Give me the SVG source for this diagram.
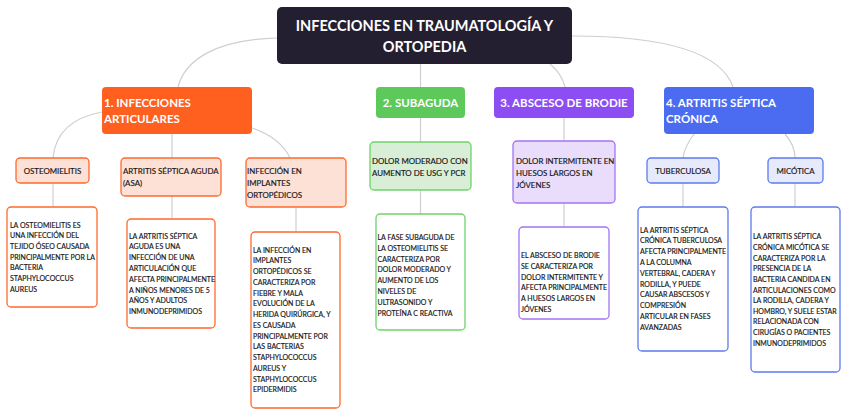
<svg xmlns="http://www.w3.org/2000/svg" width="848" height="416" viewBox="0 0 848 416">
<style>
text{font-family:Lato,"Liberation Sans",sans-serif;}
.conn path{fill:none;stroke:#cfcfcf;stroke-width:1.2;}
.title{font-size:14.5px;font-weight:bold;fill:#fff;}
.main{font-size:11.5px;font-weight:bold;fill:#fff;}
.lbl{font-size:7.9px;fill:#151515;stroke:#151515;stroke-width:0.15;}
.body{font-size:7px;fill:#151515;stroke:#151515;stroke-width:0.15;}
.o1{fill:#fde0d6;stroke:#ff6a2b;stroke-width:1.3;}
.o2{fill:#fff;stroke:#ff6a2b;stroke-width:1.3;}
.g1{fill:#d9eed6;stroke:#6fd36a;stroke-width:1.3;}
.g2{fill:#fff;stroke:#6fd36a;stroke-width:1.3;}
.p1{fill:#e9ddfb;stroke:#a374f3;stroke-width:1.3;}
.p2{fill:#fff;stroke:#a374f3;stroke-width:1.3;}
.b1{fill:#e7eafb;stroke:#5b7bf0;stroke-width:1.3;}
.b2{fill:#fff;stroke:#5b7bf0;stroke-width:1.3;}
</style>
<g class="conn" id="connectors">
<path d="M277 38 C215 40 185 60 178 87"/>
<path d="M420.5 64 L420.5 87"/>
<path d="M550 64 Q562 74 565 87"/>
<path d="M572 36 C660 36 720 50 733 87"/>
<path d="M102 112 C70 118 55 135 53 158"/>
<path d="M172 134 L172 158"/>
<path d="M252 128 C272 135 284 145 290 158"/>
<path d="M53 183 L53 207"/>
<path d="M172 196 L172 219"/>
<path d="M296 207 L296 232"/>
<path d="M420.5 118 L420.5 142"/>
<path d="M420.5 190 L420.5 214"/>
<path d="M564 118 L564 141"/>
<path d="M564 203 L564 227"/>
<path d="M694 134 C688 142 684 150 683 158"/>
<path d="M785 134 C792 142 795 150 795 158"/>
<path d="M683 183 L683 207"/>
<path d="M795 183 L795 207"/>
</g>
<g id="title">
<rect x="277" y="7" width="295" height="57" rx="5" fill="#241e31"/>
<text class="title" x="424.5" y="31" text-anchor="middle">INFECCIONES EN TRAUMATOLOGÍA Y</text>
<text class="title" x="424.5" y="52" text-anchor="middle">ORTOPEDIA</text>
</g>
<g id="n1">
<rect x="102" y="87" width="150" height="47" rx="4" fill="#ff5f1f"/>
<text class="main" x="104" y="107">1. INFECCIONES</text>
<text class="main" x="104" y="123">ARTICULARES</text>
</g>
<g id="n2">
<rect x="376" y="87" width="89" height="31" rx="4" fill="#5cc95a"/>
<text class="main" x="420.5" y="107" text-anchor="middle">2. SUBAGUDA</text>
</g>
<g id="n3">
<rect x="494" y="87" width="140" height="31" rx="4" fill="#8c4df2"/>
<text class="main" x="564" y="107" text-anchor="middle">3. ABSCESO DE BRODIE</text>
</g>
<g id="n4">
<rect x="664" y="87" width="150" height="47" rx="4" fill="#4b6cf0"/>
<text class="main" x="666" y="107">4. ARTRITIS SÉPTICA</text>
<text class="main" x="666" y="123">CRÓNICA</text>
</g>
<g id="osteo">
<rect class="o1" x="16" y="158" width="73" height="25" rx="4"/>
<text class="lbl" x="52.5" y="174" text-anchor="middle">OSTEOMIELITIS</text>
</g>
<g id="asa">
<rect class="o1" x="121" y="158" width="100" height="38" rx="4"/>
<text class="lbl" x="123" y="174">ARTRITIS SÉPTICA AGUDA</text>
<text class="lbl" x="123" y="186">(ASA)</text>
</g>
<g id="implantes">
<rect class="o1" x="246" y="158" width="100" height="49" rx="4"/>
<text class="lbl" x="247" y="174">INFECCIÓN EN</text>
<text class="lbl" x="247" y="186">IMPLANTES</text>
<text class="lbl" x="247" y="198">ORTOPÉDICOS</text>
</g>
<g id="osteo-txt">
<rect class="o2" x="7" y="207" width="90" height="100" rx="4"/>
<text class="body" x="10" y="227.5"><tspan x="10">LA OSTEOMIELITIS ES</tspan><tspan x="10" dy="10.7">UNA INFECCIÓN DEL</tspan><tspan x="10" dy="10.7">TEJIDO ÓSEO CAUSADA</tspan><tspan x="10" dy="10.7">PRINCIPALMENTE POR LA</tspan><tspan x="10" dy="10.7">BACTERIA</tspan><tspan x="10" dy="10.7">STAPHYLOCOCCUS</tspan><tspan x="10" dy="10.7">AUREUS</tspan></text>
</g>
<g id="asa-txt">
<rect class="o2" x="127" y="219" width="88" height="109" rx="4"/>
<text class="body" x="129" y="238.5"><tspan x="129">LA ARTRITIS SÉPTICA</tspan><tspan x="129" dy="10.8">AGUDA ES UNA</tspan><tspan x="129" dy="10.8">INFECCIÓN DE UNA</tspan><tspan x="129" dy="10.8">ARTICULACIÓN QUE</tspan><tspan x="129" dy="10.8">AFECTA PRINCIPALMENTE</tspan><tspan x="129" dy="10.8">A NIÑOS MENORES DE 5</tspan><tspan x="129" dy="10.8">AÑOS Y ADULTOS</tspan><tspan x="129" dy="10.8">INMUNODEPRIMIDOS</tspan></text>
</g>
<g id="implantes-txt">
<rect class="o2" x="251" y="232" width="89" height="176" rx="4"/>
<text class="body" x="253" y="252.5"><tspan x="253">LA INFECCIÓN EN</tspan><tspan x="253" dy="10.75">IMPLANTES</tspan><tspan x="253" dy="10.75">ORTOPÉDICOS SE</tspan><tspan x="253" dy="10.75">CARACTERIZA POR</tspan><tspan x="253" dy="10.75">FIEBRE Y MALA</tspan><tspan x="253" dy="10.75">EVOLUCIÓN DE LA</tspan><tspan x="253" dy="10.75">HERIDA QUIRÚRGICA, Y</tspan><tspan x="253" dy="10.75">ES CAUSADA</tspan><tspan x="253" dy="10.75">PRINCIPALMENTE POR</tspan><tspan x="253" dy="10.75">LAS BACTERIAS</tspan><tspan x="253" dy="10.75">STAPHYLOCOCCUS</tspan><tspan x="253" dy="10.75">AUREUS Y</tspan><tspan x="253" dy="10.75">STAPHYLOCOCCUS</tspan><tspan x="253" dy="10.75">EPIDERMIDIS</tspan></text>
</g>
<g id="dolor-mod">
<rect class="g1" x="370" y="142" width="101" height="48" rx="4"/>
<text class="lbl" x="372" y="164">DOLOR MODERADO CON</text>
<text class="lbl" x="372" y="175.5">AUMENTO DE USG Y PCR</text>
</g>
<g id="fase-txt">
<rect class="g2" x="376" y="214" width="89" height="116" rx="4"/>
<text class="body" x="377.5" y="239.8"><tspan x="377.5">LA FASE SUBAGUDA DE</tspan><tspan x="377.5" dy="10.85">LA OSTEOMIELITIS SE</tspan><tspan x="377.5" dy="10.85">CARACTERIZA POR</tspan><tspan x="377.5" dy="10.85">DOLOR MODERADO Y</tspan><tspan x="377.5" dy="10.85">AUMENTO DE LOS</tspan><tspan x="377.5" dy="10.85">NIVELES DE</tspan><tspan x="377.5" dy="10.85">ULTRASONIDO Y</tspan><tspan x="377.5" dy="10.85">PROTEÍNA C REACTIVA</tspan></text>
</g>
<g id="dolor-int">
<rect class="p1" x="513" y="141" width="102" height="62" rx="4"/>
<text class="lbl" x="516" y="164">DOLOR INTERMITENTE EN</text>
<text class="lbl" x="516" y="176">HUESOS LARGOS EN</text>
<text class="lbl" x="516" y="187.5">JÓVENES</text>
</g>
<g id="brodie-txt">
<rect class="p2" x="519" y="227" width="90" height="92" rx="4"/>
<text class="body" x="521" y="258.2"><tspan x="521">EL ABSCESO DE BRODIE</tspan><tspan x="521" dy="10.75">SE CARACTERIZA POR</tspan><tspan x="521" dy="10.75">DOLOR INTERMITENTE Y</tspan><tspan x="521" dy="10.75">AFECTA PRINCIPALMENTE</tspan><tspan x="521" dy="10.75">A HUESOS LARGOS EN</tspan><tspan x="521" dy="10.75">JÓVENES</tspan></text>
</g>
<g id="tuber">
<rect class="b1" x="647" y="158" width="72" height="25" rx="4"/>
<text class="lbl" x="683" y="174" text-anchor="middle">TUBERCULOSA</text>
</g>
<g id="micotica">
<rect class="b1" x="768" y="158" width="55" height="25" rx="4"/>
<text class="lbl" x="795.5" y="174" text-anchor="middle">MICÓTICA</text>
</g>
<g id="tuber-txt">
<rect class="b2" x="638" y="207" width="90" height="144" rx="4"/>
<text class="body" x="640" y="232.5"><tspan x="640">LA ARTRITIS SÉPTICA</tspan><tspan x="640" dy="10.8">CRÓNICA TUBERCULOSA</tspan><tspan x="640" dy="10.8">AFECTA PRINCIPALMENTE</tspan><tspan x="640" dy="10.8">A LA COLUMNA</tspan><tspan x="640" dy="10.8">VERTEBRAL, CADERA Y</tspan><tspan x="640" dy="10.8">RODILLA, Y PUEDE</tspan><tspan x="640" dy="10.8">CAUSAR ABSCESOS Y</tspan><tspan x="640" dy="10.8">COMPRESIÓN</tspan><tspan x="640" dy="10.8">ARTICULAR EN FASES</tspan><tspan x="640" dy="10.8">AVANZADAS</tspan></text>
</g>
<g id="micotica-txt">
<rect class="b2" x="751" y="207" width="89" height="165" rx="4"/>
<text class="body" x="753" y="239.2"><tspan x="753">LA ARTRITIS SÉPTICA</tspan><tspan x="753" dy="10.66">CRÓNICA MICÓTICA SE</tspan><tspan x="753" dy="10.66">CARACTERIZA POR LA</tspan><tspan x="753" dy="10.66">PRESENCIA DE LA</tspan><tspan x="753" dy="10.66">BACTERIA CANDIDA EN</tspan><tspan x="753" dy="10.66">ARTICULACIONES COMO</tspan><tspan x="753" dy="10.66">LA RODILLA, CADERA Y</tspan><tspan x="753" dy="10.66">HOMBRO, Y SUELE ESTAR</tspan><tspan x="753" dy="10.66">RELACIONADA CON</tspan><tspan x="753" dy="10.66">CIRUGÍAS O PACIENTES</tspan><tspan x="753" dy="10.66">INMUNODEPRIMIDOS</tspan></text>
</g>
</svg>
